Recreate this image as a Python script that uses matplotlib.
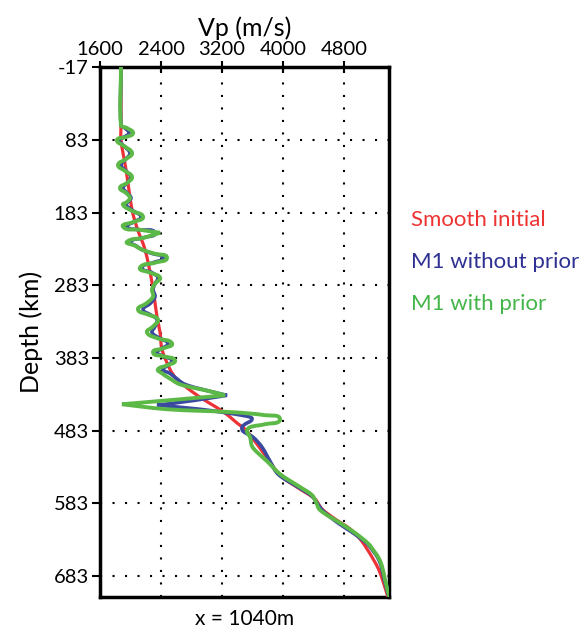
import matplotlib
matplotlib.use("Agg")
import numpy as np
import matplotlib.pyplot as plt
from matplotlib.path import Path
from matplotlib.patches import PathPatch

# depth (km) / Vp (m/s)
red_depth = [-17, 62.6, 83.2, 124.3, 179.2, 203.9, 234.1, 279.4, 326.0, 348.0, 371.3,
             398.7, 412.4, 430.3, 444.0, 457.7, 471.4, 482.4, 501.6, 522.2, 545.5,
             563.4, 577.1, 590.8, 604.5, 618.2, 632.0, 645.7, 659.4, 673.1, 686.8, 710.2]
red_vp = [1875, 1875, 1875, 1941, 2020, 2085, 2190, 2282, 2347, 2387, 2413,
          2518, 2609, 2819, 3016, 3226, 3383, 3514, 3658, 3802, 3973,
          4222, 4419, 4510, 4681, 4878, 5009, 5100, 5180, 5250, 5300, 5370]

green_depth = [-17, 62.6, 66.7, 73.6, 79.0, 83.2, 91.4, 101.0, 109.2, 117.5, 125.7,
               133.9, 142.2, 149.0, 155.9, 162.7, 168.2, 172.3, 180.6, 188.8, 195.7,
               202.5, 206.6, 210.7, 217.6, 223.1, 228.6, 234.1, 239.6, 245.1, 251.9,
               258.8, 265.6, 272.5, 280.7, 289.0, 298.6, 308.2, 316.4, 323.3, 330.1,
               339.7, 348.0, 356.2, 363.0, 369.9, 375.4, 380.9, 386.4, 393.2, 398.7,
               404.2, 409.7, 419.3, 428.9, 434.4, 439.9, 446.7, 453.6, 457.7, 461.8,
               467.3, 474.2, 478.3, 483.8, 492.0, 504.4, 512.6, 525.0, 542.8, 560.6,
               571.6, 581.2, 592.2, 610.0, 623.7, 638.8, 649.8, 659.4, 670.4, 686.8, 710.2]
green_vp = [1875, 1875, 1954, 2033, 1941, 1823, 1915, 2020, 1941, 1836, 1928,
            2020, 1954, 1862, 1941, 1993, 1954, 1902, 2020, 2164, 2046,
            1902, 2124, 2387, 2177, 1954, 2059, 2151, 2321, 2478, 2321,
            2124, 2256, 2387, 2321, 2282, 2295, 2203, 2098, 2229, 2360,
            2295, 2216, 2360, 2544, 2426, 2295, 2439, 2583, 2478, 2360,
            2413, 2491, 2649, 3042, 3239, 2649, 1888, 2478, 3344, 3763,
            3960, 3763, 3567, 3527, 3567, 3593, 3658, 3789, 3960, 4222,
            4379, 4432, 4484, 4746, 4943, 5120, 5200, 5260, 5300, 5335, 5390]

blue_depth = [-17, 62.6, 66.7, 73.6, 79.0, 83.2, 91.4, 101.0, 109.2, 117.5, 125.7,
              133.9, 142.2, 149.0, 155.9, 162.7, 168.2, 172.3, 180.6, 188.8, 195.7,
              202.5, 206.6, 210.7, 217.6, 223.1, 228.6, 234.1, 239.6, 245.1, 251.9,
              258.8, 265.6, 272.5, 280.7, 289.0, 298.6, 308.2, 316.4, 323.3, 330.1,
              339.7, 348.0, 356.2, 363.0, 369.9, 375.4, 380.9, 386.4, 393.2, 398.7,
              404.2, 409.7, 419.3, 428.9, 434.4, 441.3, 448.1, 453.6, 463.2, 467.3,
              474.2, 478.3, 483.8, 492.0, 505.7, 525.0, 542.8, 560.6, 573.0, 582.6,
              593.5, 610.0, 623.7, 638.8, 649.8, 659.4, 670.4, 686.8, 710.2]
blue_vp = [1875, 1875, 1928, 1980, 1915, 1849, 1915, 1993, 1941, 1875, 1941,
           2006, 1954, 1902, 1954, 2006, 1967, 1941, 2033, 2138, 2046,
           1954, 2124, 2321, 2164, 1993, 2072, 2151, 2295, 2426, 2295,
           2151, 2282, 2360, 2321, 2295, 2321, 2256, 2164, 2256, 2347,
           2321, 2282, 2387, 2491, 2413, 2347, 2439, 2544, 2491, 2426,
           2518, 2583, 2714, 3042, 3265, 2845, 2347, 2911, 3527, 3593,
           3501, 3462, 3475, 3606, 3724, 3829, 3934, 4196, 4379, 4445,
           4524, 4720, 4917, 5105, 5190, 5250, 5290, 5325, 5385]

vp_ticks = [1600, 2400, 3200, 4000, 4800]
depth_ticks = [-17, 83, 183, 283, 383, 483, 583, 683]

labels = ["Smooth initial", "M1 without prior", "M1 with prior"]
text_colors = ["#ee3333", "#2e3192", "#44b549"]


def smooth_path(xs, ys, sx=800 / 61.0, sy=100 / 73.0):
    # smooth curve through the read points; very sharp turns stay pointed
    p = np.column_stack([np.asarray(xs) / sx, np.asarray(ys) / sy])
    n = len(p)
    tang = np.zeros_like(p)
    for i in range(n):
        a = p[max(i - 1, 0)]
        b = p[min(i + 1, n - 1)]
        t = b - a
        nt = np.linalg.norm(t)
        if nt > 0:
            t = t / nt
        if 0 < i < n - 1:
            u = p[i] - p[i - 1]
            w = p[i + 1] - p[i]
            c = np.dot(u, w) / (np.linalg.norm(u) * np.linalg.norm(w) + 1e-9)
            if c < -0.85:
                t = t * 0
        tang[i] = t
    verts = [p[0]]
    codes = [Path.MOVETO]
    for i in range(n - 1):
        d = np.linalg.norm(p[i + 1] - p[i])
        verts += [p[i] + tang[i] * d / 3, p[i + 1] - tang[i + 1] * d / 3, p[i + 1]]
        codes += [Path.CURVE4] * 3
    return Path(np.array(verts) * [sx, sy], codes)


plt.rcParams['font.family'] = ['Lato', 'DejaVu Sans']
plt.rcParams['axes.unicode_minus'] = False

fig = plt.figure(figsize=(5.85, 6.39), dpi=100)
ax = fig.add_axes([0.171, 0.0657, 0.494, 0.829])

for xs, ys, c, lw, z in [(red_vp, red_depth, "#ed3237", 2.3, 3),
                         (blue_vp, blue_depth, "#3b4aa0", 2.6, 4),
                         (green_vp, green_depth, "#5cb947", 2.8, 5)]:
    ax.add_patch(PathPatch(smooth_path(xs, ys), facecolor='none', edgecolor=c,
                           lw=lw, zorder=z, capstyle='round', joinstyle='miter'))

ax.set_xlim(1600, 5390)
ax.set_ylim(712, -17)
ax.set_xticks(vp_ticks)
ax.set_yticks(depth_ticks)
ax.xaxis.tick_top()
ax.xaxis.set_label_position('top')
ax.tick_params(axis='both', direction='out', length=6, width=1.5, labelsize=14.5,
               colors='black', pad=2)
ax.tick_params(axis='x', direction='inout', length=9)
ax.grid(True, color='black', linestyle=(0, (1, 5)), linewidth=1.5)
for s in ax.spines.values():
    s.set_linewidth(2.5)

ax.set_xlabel("Vp (m/s)", fontsize=18, labelpad=4)
ax.set_ylabel("Depth (km)", fontsize=18, labelpad=8)
ax.text(0.5, -0.022, "x = 1040m", transform=ax.transAxes, ha='center', va='top', fontsize=15)

for i, (lab, c) in enumerate(zip(labels, text_colors)):
    fig.text(411 / 585, 1 - (220 + 42 * i) / 639, lab, color=c, fontsize=16,
             ha='left', va='center')

fig.savefig("out.png", dpi=100)
